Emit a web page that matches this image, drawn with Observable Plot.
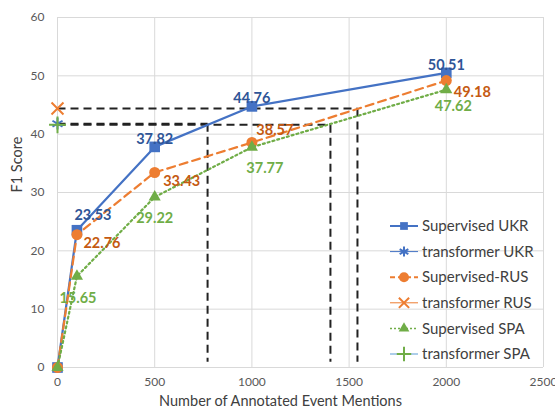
<!DOCTYPE html>
<html>
<head>
<meta charset="utf-8">
<script src="https://cdn.jsdelivr.net/npm/d3@7"></script>
<script src="https://cdn.jsdelivr.net/npm/@observablehq/plot@0.6"></script>
<style>
  html, body { margin: 0; padding: 0; background: #fff; }
</style>
</head>
<body>
<div id="chart"></div>
<script>
// ---- data ----
const mentionCounts = [0, 100, 500, 1000, 2000];
const supervisedUKR = [0, 23.53, 37.82, 44.76, 50.51];
const supervisedRUS = [0, 22.76, 33.43, 38.57, 49.18];
const supervisedSPA = [0, 15.65, 29.22, 37.77, 47.62];
const transformerLangs = ["UKR", "RUS", "SPA"];
const transformerF1 = [41.8, 44.4, 41.6];
// number of mentions where the supervised curve reaches the transformer score
const matchCounts = [772, 1543, 1404];
const legendNames = ["Supervised UKR", "transformer UKR", "Supervised-RUS", "transformer RUS", "Supervised SPA", "transformer SPA"];
const xTicks = [0, 500, 1000, 1500, 2000, 2500];
const yTicks = [0, 10, 20, 30, 40, 50, 60];

// ---- styles ----
const BLUE = "#4472C4", ORANGE = "#ED7D31", GREEN = "#70AD47";
const series = [
  {name: "UKR", values: supervisedUKR, color: BLUE, labelColor: "#2F5597", dash: null, symbol: "square", r: 6,
   offsets: [[16, -15], [0, -8], [0, -8], [0, -7]]},
  {name: "RUS", values: supervisedRUS, color: ORANGE, labelColor: "#C55A11", dash: "8,5", symbol: "circle", r: 5.5,
   offsets: [[25, 9], [27, 9], [23, -12], [26, 12]]},
  {name: "SPA", values: supervisedSPA, color: GREEN, labelColor: "#70AD47", dash: "2,3", symbol: "triangle", r: 4.5,
   offsets: [[1, 22], [0, 21], [13, 21], [7, 17]]}
];
const transformerStyle = [
  {symbol: "asterisk", color: BLUE},
  {symbol: "times", color: ORANGE},
  {symbol: "plus", color: GREEN}
];

const marks = [
  Plot.gridX(xTicks, {stroke: "#D9D9D9", strokeOpacity: 1, strokeWidth: 1}),
  Plot.gridY(yTicks, {stroke: "#D9D9D9", strokeOpacity: 1, strokeWidth: 1}),
  Plot.axisX({ticks: xTicks, tickSize: 0, tickPadding: 10, tickFormat: d => String(d)}),
  Plot.axisY({ticks: yTicks, tickSize: 0, tickPadding: 13, label: null, tickFormat: d => String(d)}),
];

// black dashed reference lines
const refSegs = [];
transformerF1.forEach((f, i) => {
  refSegs.push({x1: 0, y1: f, x2: matchCounts[i], y2: f});
  refSegs.push({x1: matchCounts[i], y1: f, x2: matchCounts[i], y2: 1});
});
marks.push(Plot.link(refSegs, {x1: "x1", y1: "y1", x2: "x2", y2: "y2", stroke: "#222", strokeWidth: 2, strokeDasharray: "8,5"}));

// supervised curves
series.forEach(s => {
  const rows = mentionCounts.map((x, i) => ({x, y: s.values[i]}));
  marks.push(Plot.line(rows, {x: "x", y: "y", stroke: s.color, strokeWidth: 2.2, strokeDasharray: s.dash}));
  marks.push(Plot.dot(rows, {x: "x", y: "y", symbol: s.symbol, r: s.r, fill: s.color, stroke: "none"}));
});

// transformer points at x = 0
transformerLangs.forEach((l, i) => {
  marks.push(Plot.dot([{x: 0, y: transformerF1[i]}], {x: "x", y: "y", symbol: transformerStyle[i].symbol, r: 5.5,
    stroke: transformerStyle[i].color, strokeWidth: 2, fill: "none"}));
});

// value labels
series.forEach(s => {
  mentionCounts.forEach((x, i) => {
    if (i === 0) return;
    const o = s.offsets[i - 1];
    marks.push(Plot.text([{x, y: s.values[i]}], {x: "x", y: "y", text: d => d.y.toFixed(2),
      dx: o[0], dy: o[1], fill: s.labelColor, fontWeight: "bold", fontSize: 14.5}));
  });
});

// axis titles
marks.push(Plot.text(["F1 Score"], {frameAnchor: "left", dx: -40, rotate: -90, fill: "#404040", fontSize: 14.5}));
marks.push(Plot.text(["Number of Annotated Event Mentions"], {frameAnchor: "bottom", dx: -20, dy: 38, fill: "#404040", fontSize: 14.5}));

const chart = Plot.plot({
  width: 555,
  height: 414,
  marginLeft: 57,
  marginRight: 12,
  marginTop: 17,
  marginBottom: 47,
  x: {domain: [0, 2500]},
  y: {domain: [0, 60]},
  style: {fontFamily: "Lato, 'Open Sans', sans-serif", fontSize: "12px", color: "#595959", background: "#fff"},
  marks
});
document.getElementById("chart").appendChild(chart);

// legend (inside the plot, right side)
const svg = d3.select(chart);
const lg = svg.append("g").attr("font-family", "Lato, 'Open Sans', sans-serif").attr("font-size", 15)
  .attr("fill", "#404040").attr("text-anchor", "start");
const legendStyles = [
  {line: BLUE, dash: null, w: 2, sym: d3.symbolSquare, size: 60, fill: BLUE, stroke: "none"},
  {line: BLUE, dash: null, w: 1, sym: d3.symbolAsterisk, size: 70, fill: "none", stroke: BLUE},
  {line: ORANGE, dash: "5,3", w: 2, sym: d3.symbolCircle, size: 80, fill: ORANGE, stroke: "none"},
  {line: ORANGE, dash: null, w: 1, sym: d3.symbolTimes, size: 70, fill: "none", stroke: ORANGE},
  {line: GREEN, dash: "2,2", w: 1.5, sym: d3.symbolTriangle, size: 50, fill: GREEN, stroke: "none"},
  {line: "#5B9BD5", dash: null, w: 1, sym: d3.symbolPlus, size: 70, fill: "none", stroke: GREEN}
];
legendNames.forEach((name, i) => {
  const st = legendStyles[i];
  const y = 226 + i * 25.6;
  const g = lg.append("g").attr("transform", `translate(0,${y})`);
  g.append("line").attr("x1", 390).attr("x2", 418).attr("y1", 0).attr("y2", 0)
    .attr("stroke", st.line).attr("stroke-width", st.w).attr("stroke-dasharray", st.dash);
  g.append("path").attr("transform", "translate(404,0)").attr("d", d3.symbol(st.sym, st.size)())
    .attr("fill", st.fill).attr("stroke", st.stroke).attr("stroke-width", 2);
  g.append("text").attr("x", 422).attr("y", 0).attr("dy", "0.35em").attr("text-anchor", "start").text(name);
});
</script>
</body>
</html>
